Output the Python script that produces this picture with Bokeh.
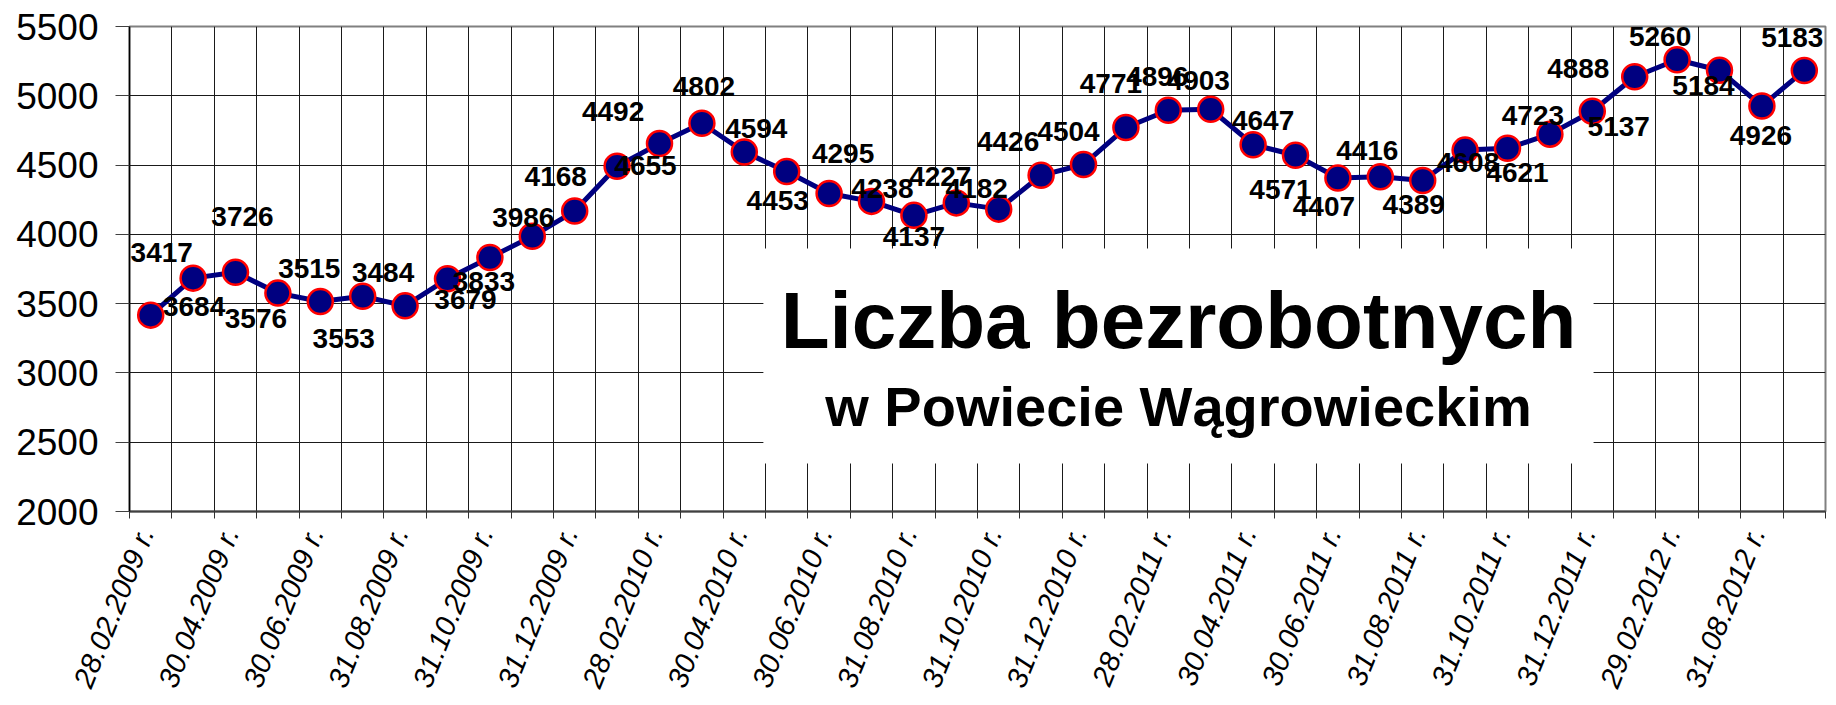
from bokeh.plotting import figure
from bokeh.models import Range1d, FixedTicker, BoxAnnotation, Label, ColumnDataSource
from bokeh.core.properties import value
from bokeh.embed import file_html
from bokeh.resources import INLINE

# ---- data ----
values = [3417, 3684, 3726, 3576, 3515, 3553, 3484, 3679, 3833, 3986,
          4168, 4492, 4655, 4802, 4594, 4453, 4295, 4238, 4137, 4227,
          4182, 4426, 4504, 4771, 4896, 4903, 4647, 4571, 4407, 4416,
          4389, 4608, 4621, 4723, 4888, 5137, 5260, 5184, 4926, 5183]
categories = list(range(1, len(values) + 1))
tick_labels = ["28.02.2009 r.", "30.04.2009 r.", "30.06.2009 r.", "31.08.2009 r.",
               "31.10.2009 r.", "31.12.2009 r.", "28.02.2010 r.", "30.04.2010 r.",
               "30.06.2010 r.", "31.08.2010 r.", "31.10.2010 r.", "31.12.2010 r.",
               "28.02.2011 r.", "30.04.2011 r.", "30.06.2011 r.", "31.08.2011 r.",
               "31.10.2011 r.", "31.12.2011 r.", "29.02.2012 r.", "31.08.2012 r."]
y_ticks = [2000, 2500, 3000, 3500, 4000, 4500, 5000, 5500]
title_line1 = "Liczba bezrobotnych"
title_line2 = "w Powiecie Wągrowieckim"

# ---- label placement (pixels, +dy = down) ----
label_dx = [11, 1, 7, -22, -11, -19, -22, 18, -6, -9,
            -19, -4, -14, 2, 12, -9, 14, 11, 0, -16,
            -22, -33, -15, -15, -11, -12, 10, -15, -14, -13,
            -9, 3, 10, -17, -14, -16, -17, -16, -1, -12]
label_dy = [-63, 28, -56, 25, -33, 42, -33, 21, 24, -19,
            -35, -55, 22, -37, -24, 29, -40, -13, 21, -26,
            -21, -34, -33, -44, -34, -29, -24, 34, 29, -26,
            24, 12, 24, -19, -43, 50, -23, 15, 29, -33]

FONT = "Liberation Sans"
LABEL_SHIFT = -0.12   # category-label anchor shift (in categories)

src = ColumnDataSource(dict(
    x=categories, y=values, txt=[str(v) for v in values],
    dx=label_dx, dy=label_dy))

p = figure(width=1836, height=705, output_backend="svg", toolbar_location=None,
           x_range=Range1d(0.5, len(values) + 0.5), y_range=Range1d(y_ticks[0], y_ticks[-1]),
           min_border_left=129, min_border_right=11, min_border_top=26, min_border_bottom=194)
p.background_fill_color = "white"
p.border_fill_color = "white"
p.outline_line_color = "#808080"
p.outline_line_width = 2

boundaries = [c - 0.5 for c in categories] + [categories[-1] + 0.5]
label_pos = categories[::2]
label_ticks = [c + LABEL_SHIFT for c in label_pos]

# x axis: labels on every second category, tick marks at the boundaries
p.xaxis.ticker = FixedTicker(ticks=label_ticks, minor_ticks=boundaries)
p.xaxis.major_label_overrides = {t: s for t, s in zip(label_ticks, tick_labels)}
p.xaxis.major_tick_out = 0
p.xaxis.major_tick_in = 0
p.xaxis.minor_tick_out = 7
p.xaxis.minor_tick_in = 0
p.xaxis.minor_tick_line_color = "#303030"
p.xaxis.minor_tick_line_width = 1
p.xaxis.axis_line_color = "#404040"
p.xaxis.axis_line_width = 2
p.xaxis.major_label_orientation = 1.187
p.xaxis.major_label_text_font = FONT
p.xaxis.major_label_text_font_style = "italic"
p.xaxis.major_label_text_font_size = "29px"
p.xaxis.major_label_text_color = "black"
p.xaxis.major_label_standoff = 10

# y axis
p.yaxis.ticker = FixedTicker(ticks=y_ticks)
p.yaxis.major_tick_out = 14
p.yaxis.major_tick_in = 0
p.yaxis.minor_tick_out = 0
p.yaxis.minor_tick_in = 0
p.yaxis.axis_line_color = "black"
p.yaxis.axis_line_width = 1.5
p.yaxis.major_tick_line_color = "#404040"
p.yaxis.major_label_text_font = FONT
p.yaxis.major_label_text_font_size = "37px"
p.yaxis.major_label_text_color = "black"
p.yaxis.major_label_standoff = 17

# grids
p.xgrid.ticker = FixedTicker(ticks=boundaries)
p.ygrid.ticker = FixedTicker(ticks=y_ticks)
for g in (p.xgrid, p.ygrid):
    g.grid_line_color = "#1a1a1a"
    g.grid_line_width = 1

# series
p.line("x", "y", source=src, line_color="#000080", line_width=5)
p.scatter("x", "y", source=src, size=25, fill_color="#000080",
          line_color="#ff0000", line_width=2.5)
p.text("x", "y", text="txt", source=src, x_offset="dx", y_offset="dy",
       text_font=value(FONT), text_font_style="bold", text_font_size="28px",
       text_align="center", text_baseline="middle", text_color="black")

# title box
p.add_layout(BoxAnnotation(left=15.45, right=35.03, top=3898, bottom=2346,
                           fill_color="white", fill_alpha=1.0, line_color=None))
p.add_layout(Label(x=25.24, y=3378, text=title_line1, text_align="center",
                   text_baseline="middle", text_font=FONT, text_font_style="bold",
                   text_font_size="80px", text_color="black"))
p.add_layout(Label(x=25.24, y=2761, text=title_line2, text_align="center",
                   text_baseline="middle", text_font=FONT, text_font_style="bold",
                   text_font_size="56px", text_color="black"))

open("out.html", "w").write(file_html(p, INLINE))
